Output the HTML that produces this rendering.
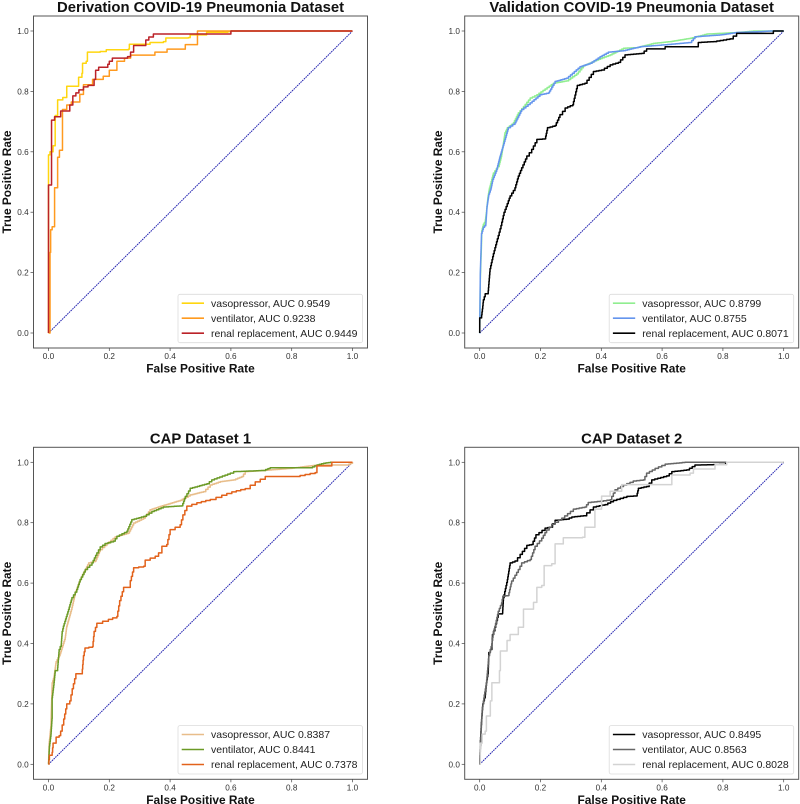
<!DOCTYPE html>
<html lang="en">
<head>
<meta charset="utf-8">
<title>ROC curves</title>
<style>
html,body{margin:0;padding:0;background:#fff;}
svg{display:block;filter:blur(0.3px);font-family:"Liberation Sans",sans-serif;}
</style>
</head>
<body>
<svg id="figure" xmlns="http://www.w3.org/2000/svg" width="800" height="804" viewBox="0 0 800 804"></svg>
<script>
// ---- Chart data ----
const axisTicks = [0, 0.2, 0.4, 0.6, 0.8, 1];
const tickLabels = ['0.0', '0.2', '0.4', '0.6', '0.8', '1.0'];
const xAxisTitle = 'False Positive Rate';
const yAxisTitle = 'True Positive Rate';

const d1VasoFpr = [0,0,.005,.015,.022,.022,.03,.047,.047,.06,.06,.095,.099,.11,.112,.124,.128,.17,.19,.263,.266,.33,.334,.378,.386,.46,.466,.52,.52,.59,.6,1];
const d1VasoTpr = [0,.59,.6,.62,.64,.72,.772,.772,.78,.78,.817,.817,.847,.86,.893,.9,.93,.932,.938,.94,.956,.956,.962,.965,.977,.978,.987,.987,.996,.998,1,1];
const d1VentFpr = [0,.005,.007,.012,.012,.02,.02,.03,.03,.036,.036,.046,.046,.06,.06,.075,.075,.103,.103,.115,.115,.145,.145,.18,.18,.2,.2,.225,.225,.25,.25,.27,.35,.35,.38,.39,.45,.45,.49,.49,1];
const d1VentTpr = [0,.267,.342,.342,.352,.352,.481,.481,.582,.582,.605,.605,.74,.74,.755,.755,.765,.765,.79,.79,.822,.825,.84,.84,.85,.85,.87,.875,.9,.9,.91,.92,.925,.93,.93,.94,.94,.955,.955,1,1];
const d1RenalFpr = [0,0,.005,.01,.018,.02,.04,.04,.065,.07,.08,.08,.09,.1,.115,.115,.13,.15,.15,.155,.165,.19,.195,.2,.21,.26,.27,.28,.32,.32,.33,.345,.345,.6,.6,1];
const d1RenalTpr = [0,.49,.49,.705,.705,.716,.716,.735,.735,.755,.755,.785,.795,.805,.805,.815,.82,.825,.84,.87,.88,.88,.89,.9,.91,.915,.93,.952,.952,.97,.98,.98,.99,.99,1,1];

const d2VasoFpr = [0,.002,.006,.007,.012,.018,.022,.027,.032,.034,.045,.064,.072,.083,.091,.111,.127,.144,.166,.188,.215,.242,.286,.319,.341,.385,.429,.473,.516,.571,.626,.692,.747,.845,.9,1];
const d2VasoTpr = [0,.18,.3,.34,.36,.37,.4,.45,.48,.487,.53,.558,.59,.663,.68,.696,.729,.75,.778,.789,.808,.827,.835,.858,.885,.904,.921,.943,.945,.959,.965,.976,.99,.995,1,1];
const d2VentFpr = [0,.002,.006,.012,.02,.024,.03,.037,.043,.056,.067,.083,.094,.116,.138,.166,.198,.226,.248,.286,.33,.363,.396,.423,.473,.527,.604,.692,.708,.79,.845,.922,.955,1];
const d2VentTpr = [0,.2,.33,.35,.36,.42,.46,.48,.509,.542,.586,.641,.68,.696,.74,.762,.789,.795,.833,.844,.882,.893,.915,.93,.935,.948,.954,.962,.981,.987,.995,.998,1,1];
const d2RenalFpr = [0,0,.005,.01,.012,.018,.028,.034,.045,.058,.07,.08,.094,.1,.116,.127,.138,.155,.171,.188,.215,.223,.248,.264,.281,.306,.321,.346,.374,.401,.429,.456,.478,.533,.549,.599,.61,.714,.719,.769,.823,.845,.955,.966,1];
const d2RenalTpr = [0,.05,.05,.09,.11,.13,.14,.213,.263,.312,.356,.4,.438,.454,.481,.52,.547,.586,.608,.641,.643,.68,.687,.723,.745,.756,.82,.827,.866,.871,.888,.896,.921,.926,.941,.941,.948,.948,.962,.965,.974,.992,.992,1,1];

const d3VasoFpr = [0,.002,.008,.01,.012,.018,.025,.038,.055,.06,.077,.088,.104,.115,.132,.154,.17,.192,.219,.263,.28,.313,.334,.367,.433,.466,.51,.532,.565,.609,.636,.647,.707,.795,.883,.982,1];
const d3VasoTpr = [0,.07,.13,.2,.27,.29,.34,.366,.42,.458,.519,.568,.612,.634,.667,.673,.711,.731,.753,.766,.799,.815,.843,.854,.874,.892,.903,.925,.936,.942,.953,.969,.973,.98,.991,.991,1];
const d3VentFpr = [0,.003,.008,.012,.012,.018,.022,.03,.035,.042,.045,.049,.066,.077,.093,.104,.121,.143,.159,.17,.186,.214,.225,.258,.274,.313,.34,.378,.439,.45,.466,.521,.537,.598,.609,.707,.729,.861,.883,.905,.927,1];
const d3VentTpr = [0,.06,.1,.16,.22,.27,.31,.32,.38,.4,.44,.458,.513,.552,.579,.612,.645,.667,.7,.72,.731,.739,.755,.772,.81,.821,.837,.852,.856,.887,.914,.929,.942,.964,.969,.973,.982,.982,.991,.997,1,1];
const d3RenalFpr = [0,.003,.012,.015,.025,.035,.04,.05,.06,.07,.078,.09,.11,.115,.12,.145,.15,.159,.197,.225,.234,.247,.269,.28,.313,.318,.351,.362,.373,.389,.4,.433,.442,.455,.488,.532,.57,.603,.647,.68,.713,.811,.877,.883,.932,.932,1];
const d3RenalTpr = [0,.03,.04,.07,.09,.095,.11,.15,.2,.21,.25,.3,.3,.36,.385,.39,.44,.467,.48,.49,.542,.586,.608,.651,.656,.676,.689,.7,.722,.728,.777,.793,.826,.855,.866,.877,.891,.902,.913,.935,.953,.953,.966,.988,.988,1,1];

const d4VasoFpr = [0,.002,.005,.01,.018,.022,.028,.03,.04,.042,.05,.061,.075,.078,.091,.1,.116,.133,.155,.171,.185,.215,.231,.248,.286,.303,.341,.374,.412,.44,.484,.516,.522,.549,.566,.615,.632,.681,.708,.807,.809,1];
const d4VasoTpr = [0,.07,.13,.2,.23,.27,.31,.37,.39,.43,.454,.498,.5,.552,.612,.667,.673,.695,.725,.728,.76,.782,.785,.808,.812,.819,.823,.852,.86,.874,.887,.889,.914,.92,.942,.955,.969,.975,.991,.993,1,1];
const d4VentFpr = [0,.004,.008,.015,.022,.03,.04,.045,.05,.061,.072,.076,.094,.105,.127,.138,.166,.182,.204,.22,.237,.27,.308,.346,.357,.396,.429,.445,.473,.505,.538,.549,.577,.61,.675,1];
const d4VentTpr = [0,.1,.18,.23,.27,.36,.4,.44,.457,.507,.535,.557,.559,.607,.645,.667,.678,.722,.749,.776,.795,.815,.845,.852,.867,.871,.876,.909,.925,.938,.942,.964,.98,.994,1,1];
const d4RenalFpr = [0,.002,.008,.018,.022,.03,.035,.04,.06,.065,.068,.09,.09,.1,.127,.144,.177,.188,.204,.212,.237,.248,.275,.338,.346,.368,.379,.401,.429,.467,.621,.632,.692,.703,.769,.774,.8125,1];
const d4RenalTpr = [0,.07,.1,.11,.16,.16,.21,.27,.27,.31,.375,.375,.41,.43,.454,.514,.536,.586,.592,.658,.664,.73,.75,.752,.785,.785,.845,.888,.904,.926,.926,.958,.964,.978,.978,.992,1,1];

const diagonalFpr = [0, 1];
const diagonalTpr = [0, 1];

const panelTitles = ['Derivation COVID-19 Pneumonia Dataset','Validation COVID-19 Pneumonia Dataset','CAP Dataset 1','CAP Dataset 2'];
const legend1 = ['vasopressor, AUC 0.9549','ventilator, AUC 0.9238','renal replacement, AUC 0.9449'];
const legend2 = ['vasopressor, AUC 0.8799','ventilator, AUC 0.8755','renal replacement, AUC 0.8071'];
const legend3 = ['vasopressor, AUC 0.8387','ventilator, AUC 0.8441','renal replacement, AUC 0.7378'];
const legend4 = ['vasopressor, AUC 0.8495','ventilator, AUC 0.8563','renal replacement, AUC 0.8028'];
const seriesSlugs = ['vasopressor','ventilator','renal-replacement'];

// ---- Drawing ----
const svg = document.getElementById('figure');
const NS = 'http://www.w3.org/2000/svg';

function mk(parent, tag, props, text) {
  const el = document.createElementNS(NS, tag);
  for (const k in props) el.setAttribute(k, props[k]);
  if (text !== undefined) el.textContent = text;
  parent.appendChild(el);
  return el;
}

// stair: 0 = one stair per data point; n > 0 = fine stairs about n px wide along each segment
function stepPath(xs, ys, sx, sy, stair) {
  let px = sx(xs[0]), py = sy(ys[0]);
  let d = 'M' + px.toFixed(2) + ' ' + py.toFixed(2);
  for (let i = 1; i < xs.length; i++) {
    const nx = sx(xs[i]), ny = sy(ys[i]);
    const n = stair ? Math.max(1, Math.round(Math.max(Math.abs(nx - px), Math.abs(ny - py)) / stair)) : 1;
    for (let k = 1; k <= n; k++) {
      d += 'H' + (px + (nx - px) * k / n).toFixed(2) + 'V' + (py + (ny - py) * k / n).toFixed(2);
    }
    px = nx;
    py = ny;
  }
  return d;
}

function drawPanel(cfg) {
  const L = cfg.left, T = cfg.top, W = 334, H = 332;
  const sx = v => L + 15 + v * 304;
  const sy = v => T + 317 - v * 302;
  const prefix = 'panel-' + cfg.id + '-';

  const g = mk(svg, 'g', {});
  
  

  const title = mk(g, 'text', {x: L + 167, y: T - 4, 'text-anchor': 'middle', 'font-size': 14.85, 'font-weight': 'bold', fill: '#111'}, cfg.title);
  
  

  const frame = mk(g, 'rect', {x: L, y: T, width: W, height: H, fill: '#fff', stroke: '#555', 'stroke-width': 1});
  
  

  axisTicks.forEach((t, i) => {
    const xt = mk(g, 'line', {x1: sx(t), x2: sx(t), y1: T + H, y2: T + H + 3, stroke: '#444', 'stroke-width': 0.7});
    
    
    const xl = mk(g, 'text', {x: sx(t), y: T + H + 11.2, 'text-anchor': 'middle', 'font-size': 8.2, fill: '#333'}, tickLabels[i]);
    
    
    const yt = mk(g, 'line', {x1: L - 3, x2: L, y1: sy(t), y2: sy(t), stroke: '#444', 'stroke-width': 0.7});
    
    
    const yl = mk(g, 'text', {x: L - 4.8, y: sy(t) + 3, 'text-anchor': 'end', 'font-size': 8.2, fill: '#333'}, tickLabels[i]);
    
    
  });

  const xTitle = mk(g, 'text', {x: L + 167, y: T + H + 24.5, 'text-anchor': 'middle', 'font-size': 11.9, 'font-weight': 'bold', fill: '#111'}, xAxisTitle);
  
  
  const yx = L - 22.5, yy = T + 166;
  const yTitle = mk(g, 'text', {x: yx, y: yy, transform: 'rotate(-90 ' + yx + ' ' + yy + ')', 'text-anchor': 'middle', 'font-size': 11.9, 'font-weight': 'bold', fill: '#111'}, yAxisTitle);
  
  

  const diag = mk(g, 'line', {x1: sx(diagonalFpr[0]), y1: sy(diagonalTpr[0]), x2: sx(diagonalFpr[1]), y2: sy(diagonalTpr[1]), stroke: '#2222b0', 'stroke-width': 1, 'stroke-dasharray': '1.6 0.8'});
  
  

  cfg.series.forEach((s, i) => {
    const p = mk(g, 'path', {d: stepPath(s.fpr, s.tpr, sx, sy, s.stair), fill: 'none', stroke: s.color, 'stroke-width': 1.5, 'stroke-linejoin': 'round'});
    
    
  });

  const lx = L + 144.5, ly = T + 278.3;
  const box = mk(g, 'rect', {x: lx, y: ly, width: 184.5, height: 48.4, rx: 2, ry: 2, fill: '#fff', 'fill-opacity': 0.85, stroke: '#dcdcdc', 'stroke-width': 0.8});
  
  
  cfg.series.forEach((s, i) => {
    const cy = ly + 8.9 + i * 15;
    const sw = mk(g, 'line', {x1: lx + 3.7, x2: lx + 26, y1: cy, y2: cy, stroke: s.color, 'stroke-width': 1.6});
    
    
    const tx = mk(g, 'text', {x: lx + 33, y: cy + 3.6, 'font-size': 10.5, fill: '#222'}, cfg.legend[i]);
    
    
  });
}

drawPanel({id: 'derivation', left: 33.5, top: 16, title: panelTitles[0], legend: legend1, series: [
  {fpr: d1VasoFpr, tpr: d1VasoTpr, color: '#ffd60f', stair: 0},
  {fpr: d1VentFpr, tpr: d1VentTpr, color: '#ff9a1f', stair: 0},
  {fpr: d1RenalFpr, tpr: d1RenalTpr, color: '#bb2228', stair: 0}
]});
drawPanel({id: 'validation', left: 464.7, top: 16, title: panelTitles[1], legend: legend2, series: [
  {fpr: d2VasoFpr, tpr: d2VasoTpr, color: '#90ee90', stair: 2},
  {fpr: d2VentFpr, tpr: d2VentTpr, color: '#6495ed', stair: 2},
  {fpr: d2RenalFpr, tpr: d2RenalTpr, color: '#000000', stair: 3}
]});
drawPanel({id: 'cap-1', left: 33.5, top: 447.3, title: panelTitles[2], legend: legend3, series: [
  {fpr: d3VasoFpr, tpr: d3VasoTpr, color: '#e8bd8a', stair: 2},
  {fpr: d3VentFpr, tpr: d3VentTpr, color: '#6b9a26', stair: 2.5},
  {fpr: d3RenalFpr, tpr: d3RenalTpr, color: '#e2621b', stair: 5}
]});
drawPanel({id: 'cap-2', left: 464.7, top: 447.3, title: panelTitles[3], legend: legend4, series: [
  {fpr: d4VasoFpr, tpr: d4VasoTpr, color: '#000000', stair: 3},
  {fpr: d4VentFpr, tpr: d4VentTpr, color: '#666666', stair: 3},
  {fpr: d4RenalFpr, tpr: d4RenalTpr, color: '#d3d3d3', stair: 0}
]});
</script>
</body>
</html>
